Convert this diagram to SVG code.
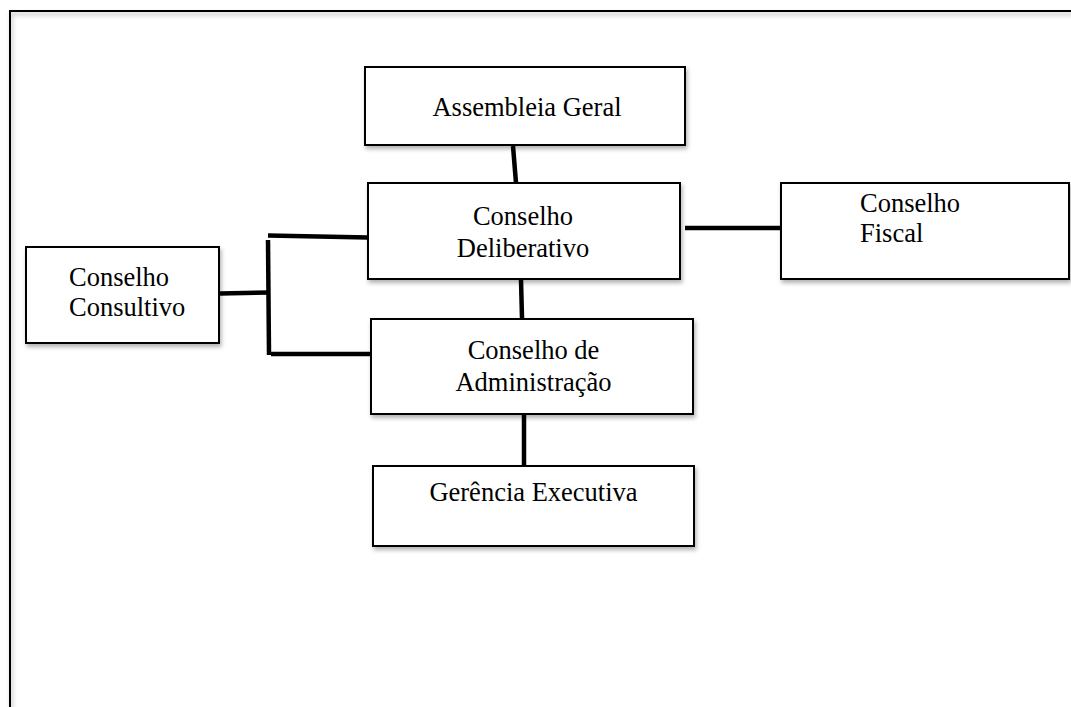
<svg xmlns="http://www.w3.org/2000/svg" width="1071" height="707" viewBox="0 0 1071 707">
  <defs>
    <filter id="shadow" x="-10%" y="-10%" width="120%" height="130%">
      <feDropShadow dx="1.5" dy="3" stdDeviation="2" flood-color="#000" flood-opacity="0.3"/>
    </filter>
  </defs>
  <style>
    .box { fill: #ffffff; stroke: #000000; stroke-width: 2; filter: url(#shadow); }
    .lbl { font-family: "Liberation Serif", "Times New Roman", serif; font-size: 26.5px; fill: #000000; }
    .mid { text-anchor: middle; }
    .conn { stroke: #000000; stroke-width: 4.5; fill: none; stroke-linecap: butt; }
  </style>
  <rect width="1071" height="707" fill="#ffffff"/>
  <g id="frame">
    <path d="M10,720 L10,11 L1085,11" fill="none" stroke="#000" stroke-width="2" filter="url(#shadow)"/>
  </g>
  <g id="connectors">
    <line class="conn" x1="513" y1="146" x2="516" y2="183"/>
    <line class="conn" x1="521" y1="280" x2="522" y2="318"/>
    <line class="conn" x1="524" y1="415" x2="524" y2="465"/>
    <line class="conn" x1="685" y1="228" x2="781" y2="228"/>
    <line class="conn" x1="220" y1="293.5" x2="270" y2="292.5"/>
    <line class="conn" x1="268" y1="240" x2="269" y2="355"/>
    <line class="conn" x1="268" y1="235.5" x2="368" y2="237.5"/>
    <line class="conn" x1="271" y1="354" x2="371" y2="354"/>
  </g>
  <g id="assembleia-geral">
    <rect class="box" x="365" y="67" width="320" height="78"/>
    <text class="lbl mid" x="527" y="116">Assembleia Geral</text>
  </g>
  <g id="conselho-deliberativo">
    <rect class="box" x="368" y="183" width="312" height="96"/>
    <text class="lbl mid" x="523" y="225">Conselho</text>
    <text class="lbl mid" x="523" y="257">Deliberativo</text>
  </g>
  <g id="conselho-fiscal">
    <rect class="box" x="781" y="183" width="288" height="96"/>
    <text class="lbl" x="860" y="212">Conselho</text>
    <text class="lbl" x="860" y="242">Fiscal</text>
  </g>
  <g id="conselho-consultivo">
    <rect class="box" x="26" y="247" width="193" height="96"/>
    <text class="lbl" x="69" y="286">Conselho</text>
    <text class="lbl" x="69" y="316">Consultivo</text>
  </g>
  <g id="conselho-administracao">
    <rect class="box" x="371" y="319" width="322" height="95"/>
    <text class="lbl mid" x="533.5" y="359">Conselho de</text>
    <text class="lbl mid" x="533.5" y="391">Administração</text>
  </g>
  <g id="gerencia-executiva">
    <rect class="box" x="373" y="466" width="321" height="80"/>
    <text class="lbl mid" x="533.5" y="501">Gerência Executiva</text>
  </g>
</svg>
